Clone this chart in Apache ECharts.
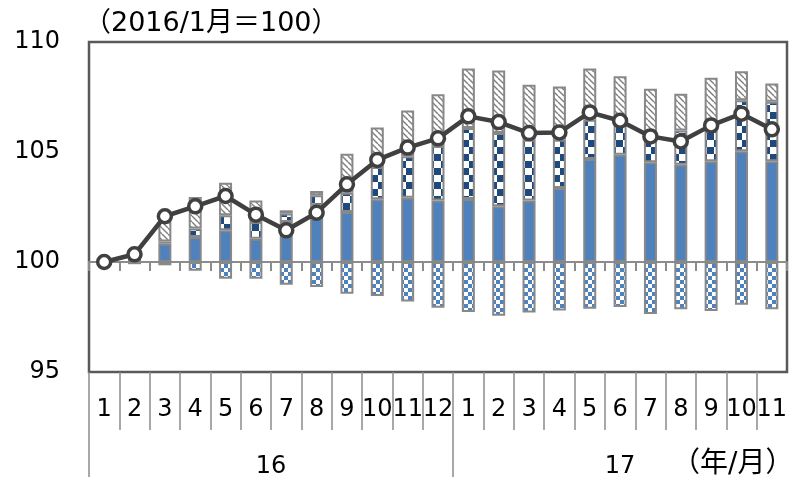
<!DOCTYPE html>
<html>
<head>
<meta charset="utf-8">
<script src="https://cdn.jsdelivr.net/npm/echarts@6/dist/echarts.min.js"></script>
<style>
  html, body { margin: 0; padding: 0; background: #fff; }
  #chart { width: 794px; height: 477px; }
</style>
</head>
<body>
<div id="chart"></div>
<script>
// Month labels (2016/1 .. 2017/11) and the year groups beneath them
const months = ['1','2','3','4','5','6','7','8','9','10','11','12',
                '1','2','3','4','5','6','7','8','9','10','11'];
const years = ['16', '17'];
const monthsPerYear = [12, 11];

// Index level (2016/1 = 100)
const indexLevel = [100.00, 100.35, 102.08, 102.53, 103.00, 102.15, 101.44, 102.24,
                    103.53, 104.64, 105.20, 105.62, 106.62, 106.36, 105.86, 105.89,
                    106.80, 106.42, 105.71, 105.48, 106.21, 106.74, 106.03];

// Contributions (points) to the change since 2016/1
const solidPart   = [0.00, 0.00, 0.83, 1.14, 1.44, 1.06, 1.82, 2.58, 2.27, 2.85, 2.92, 2.80,
                     2.86, 2.53, 2.80, 3.36, 4.68, 4.88, 4.53, 4.42, 4.58, 5.03, 4.58];
const navyPart    = [0.00, 0.00, 0.10, 0.38, 0.68, 0.76, 0.38, 0.45, 0.88, 1.47, 1.89, 2.47,
                     3.23, 3.33, 2.76, 2.20, 1.79, 1.36, 1.10, 1.56, 1.56, 2.32, 2.70];
const hatchPart   = [0.00, 0.45, 1.30, 1.43, 1.48, 0.98, 0.15, 0.20, 1.77, 1.79, 2.08, 2.35,
                     2.70, 2.85, 2.50, 2.42, 2.32, 2.20, 2.24, 1.67, 2.24, 1.32, 0.83];
const negPart     = [0.00, -0.10, -0.15, -0.40, -0.76, -0.76, -1.03, -1.14, -1.44, -1.55, -1.80, -2.08,
                     -2.27, -2.44, -2.29, -2.20, -2.12, -2.05, -2.36, -2.15, -2.23, -1.94, -2.15];

// Value axis range
const baseLevel = 100;
const yMin = 95, yMax = 110, yStep = 5;

const FONT = '"DejaVu Sans", "Noto Sans CJK JP", sans-serif';

function makePattern(w, h, draw) {
  const c = document.createElement('canvas');
  c.width = w; c.height = h;
  const g = c.getContext('2d');
  draw(g, w, h);
  return { image: c, repeat: 'repeat' };
}

const navyChecker = makePattern(14, 14, (g) => {
  g.fillStyle = '#ffffff'; g.fillRect(0, 0, 14, 14);
  g.fillStyle = '#1f497d'; g.fillRect(0, 0, 7, 7); g.fillRect(7, 7, 7, 7);
});
const lightChecker = makePattern(8, 8, (g) => {
  g.fillStyle = '#ffffff'; g.fillRect(0, 0, 8, 8);
  g.fillStyle = '#4f81bd'; g.fillRect(0, 0, 4, 4); g.fillRect(4, 4, 4, 4);
});
const diagHatch = makePattern(6, 6, (g, w, h) => {
  g.fillStyle = '#ffffff'; g.fillRect(0, 0, w, h);
  g.strokeStyle = '#7f7f7f'; g.lineWidth = 1.4;
  for (const off of [-w, 0, w]) {
    g.beginPath(); g.moveTo(off, 0); g.lineTo(off + w, h); g.stroke();
  }
});

const barBorder = { borderColor: '#888888', borderWidth: 2 };

// Boundaries on a 0..N scale of the category band
const nMonths = months.length;
const monthBounds = months.map((_, i) => i);          // left edge of each month cell
const yearBounds = [0];
monthsPerYear.forEach((n, i) => yearBounds.push(yearBounds[i] + n));
const yearCenters = monthsPerYear.map((n, i) => yearBounds[i] + n / 2);

const sepStyle = { color: '#8c8c8c', width: 1.5 };

const chart = echarts.init(document.getElementById('chart'), null, { renderer: 'canvas' });

chart.setOption({
  animation: false,
  backgroundColor: '#ffffff',
  grid: {
    left: 89, right: 7, top: 42, bottom: 105,
    show: true, borderColor: '#595959', borderWidth: 2.5,
    outerBoundsMode: 'none'
  },
  xAxis: [
    { // category axis crossing at 100, ticks below
      type: 'category', data: months, boundaryGap: true,
      axisLine: { onZero: true, lineStyle: { color: '#8c8c8c', width: 2 } },
      axisTick: { show: true, interval: 0, length: 9, lineStyle: { color: '#8c8c8c', width: 2 } },
      axisLabel: { show: false }, splitLine: { show: false }
    },
    { // same axis, ticks above
      type: 'category', data: months, boundaryGap: true,
      axisLine: { show: false, onZero: true, onZeroAxisIndex: 0 },
      axisTick: { show: true, inside: true, interval: 0, length: 9, lineStyle: { color: '#8c8c8c', width: 2 } },
      axisLabel: { show: false }, splitLine: { show: false }
    },
    { // month labels under the plot
      type: 'category', data: months, boundaryGap: true, position: 'bottom',
      axisLine: { show: false, onZero: false },
      axisTick: { show: false },
      axisLabel: { show: true, interval: 0, margin: 26, fontSize: 24, fontFamily: FONT, color: '#000' },
      splitLine: { show: false }
    },
    { // month separators
      type: 'value', min: 0, max: nMonths, position: 'bottom',
      axisLine: { show: false, onZero: false },
      axisTick: { show: true, customValues: monthBounds, length: 58, lineStyle: sepStyle },
      axisLabel: { show: false }, splitLine: { show: false }
    },
    { // year separators and year labels
      type: 'value', min: 0, max: nMonths, position: 'bottom',
      axisLine: { show: false, onZero: false },
      axisTick: { show: true, customValues: yearBounds.slice(0, -1), length: 105, lineStyle: sepStyle },
      axisLabel: { show: true, customValues: yearCenters, margin: 83, fontSize: 24,
                   fontFamily: FONT, color: '#000',
                   formatter: (v) => years[yearCenters.indexOf(v)] || '' },
      splitLine: { show: false }
    }
  ],
  yAxis: {
    type: 'value', min: yMin - baseLevel, max: yMax - baseLevel, interval: yStep,
    axisLine: { show: false }, axisTick: { show: false }, splitLine: { show: false },
    axisLabel: { margin: 29, fontSize: 24, fontFamily: FONT, color: '#000',
                 formatter: (v) => String(v + baseLevel) }
  },
  graphic: [
    { type: 'text', left: 84, top: 10,
      style: { text: '（2016/1月＝100）', font: '27px ' + FONT, fill: '#000' } },
    { type: 'text', left: 672, top: 451,
      style: { text: '（年/月）', font: '28px ' + FONT, fill: '#000' } }
  ],
  series: [
    { name: 'solid', type: 'bar', stack: 'c', barWidth: 13, data: solidPart,
      itemStyle: Object.assign({ color: '#4f81bd' }, barBorder), z: 2 },
    { name: 'navy', type: 'bar', stack: 'c', barWidth: 13, data: navyPart,
      itemStyle: Object.assign({ color: navyChecker }, barBorder), z: 2 },
    { name: 'hatch', type: 'bar', stack: 'c', barWidth: 13, data: hatchPart,
      itemStyle: Object.assign({ color: diagHatch }, barBorder), z: 2 },
    { name: 'neg', type: 'bar', stack: 'c', barWidth: 13, data: negPart,
      itemStyle: Object.assign({ color: lightChecker }, barBorder), z: 2 },
    { name: 'index', type: 'line', data: indexLevel.map(v => +(v - baseLevel).toFixed(2)),
      symbol: 'circle', symbolSize: 13, z: 10,
      lineStyle: { color: '#404040', width: 4.5 },
      itemStyle: { color: '#ffffff', borderColor: '#404040', borderWidth: 3.5 } }
  ]
});
</script>
</body>
</html>
